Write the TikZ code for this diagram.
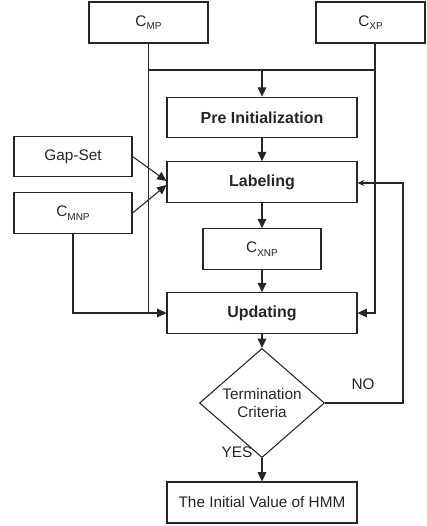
\documentclass[tikz,border=0pt]{standalone}
\usepackage{fontspec}
\setmainfont{Liberation Sans}
\usetikzlibrary{shapes.geometric,arrows.meta}
\newcommand\mysub[1]{\raisebox{-0.45ex}{\fontsize{7.5}{8}\selectfont #1}}
\begin{document}
\begin{tikzpicture}[x=0.75pt,y=-0.75pt,
  line width=0.8pt, draw=black!85,
  every node/.style={font=\fontsize{11.5}{13.5}\selectfont, text=black!85},
  box/.style={draw=black!85, rectangle, inner sep=0pt},
  bigbox/.style={box, minimum width=142.5pt, minimum height=30.5pt, font=\fontsize{12}{14}\selectfont\bfseries},
  smallbox/.style={box, minimum width=88.5pt, minimum height=30.5pt},
  arr/.style={-{Triangle[length=7pt,width=6.5pt]}},
  thinarr/.style={-{Stealth[length=5pt,width=4.5pt]}},
  decision/.style={draw=black!85, diamond, inner sep=0pt, minimum width=93.75pt, minimum height=67.5pt, align=center, font=\fontsize{11.5}{14}\selectfont},
  lbl/.style={font=\fontsize{11.5}{13.5}\selectfont}]
\useasboundingbox (0,0) rectangle (426,526);

\node[box, minimum width=89.25pt, minimum height=30.75pt] (cmp) at (148.5,22.5) {C\mysub{MP}};
\node[box, minimum width=81.75pt, minimum height=30.75pt] (cxp) at (370.5,22.5) {C\mysub{XP}};
\node[bigbox] (pre) at (262,117.5) {Pre Initialization};
\node[bigbox] (lab) at (262,182) {Labeling};
\node[smallbox] (gap) at (73,156.5) {Gap-Set};
\node[smallbox] (cmnp) at (73,213) {C\mysub{MNP}};
\node[smallbox] (cxnp) at (262,249) {C\mysub{XNP}};
\node[bigbox] (upd) at (262,313) {Updating};
\node[decision] (term) at (262,403) {Termination\\Criteria};
\node[box, minimum width=142.5pt, minimum height=30.75pt] (fin) at (262,502.5) {The Initial Value of HMM};

\coordinate (xr) at (375,70);
\coordinate (nr) at (403,183);

% top merge
\draw (cmp.south) -- (cmp.south |- upd.west);
\draw (cxp.south -| xr) -- (xr);
\draw (cmp.south |- xr) -- (xr);
\draw[arr] (pre.north |- xr) -- (pre.north);
\draw[arr] (xr) -- (xr |- upd.east) -- (upd.east);

% main chain
\draw[arr] (pre) -- (lab);
\draw[arr] (lab) -- (cxnp);
\draw[arr] (cxnp) -- (upd);
\draw[arr] (upd) -- (term);
\draw[arr] (term) -- (fin);

% side inputs
\draw[arr] (gap.east) -- ([yshift=0.75pt]lab.west);
\draw[arr] (cmnp.east) -- ([yshift=-2.25pt]lab.west);
\draw[arr] (cmnp.south) -- (cmnp.south |- upd.west) -- (upd.west);

% loop back
\draw[thinarr] (term.east) -| (nr) -- (nr -| lab.east);

\node[lbl] (no) at (363,384) {NO};
\node[lbl] (yes) at (237,452) {YES};
\end{tikzpicture}
\end{document}
